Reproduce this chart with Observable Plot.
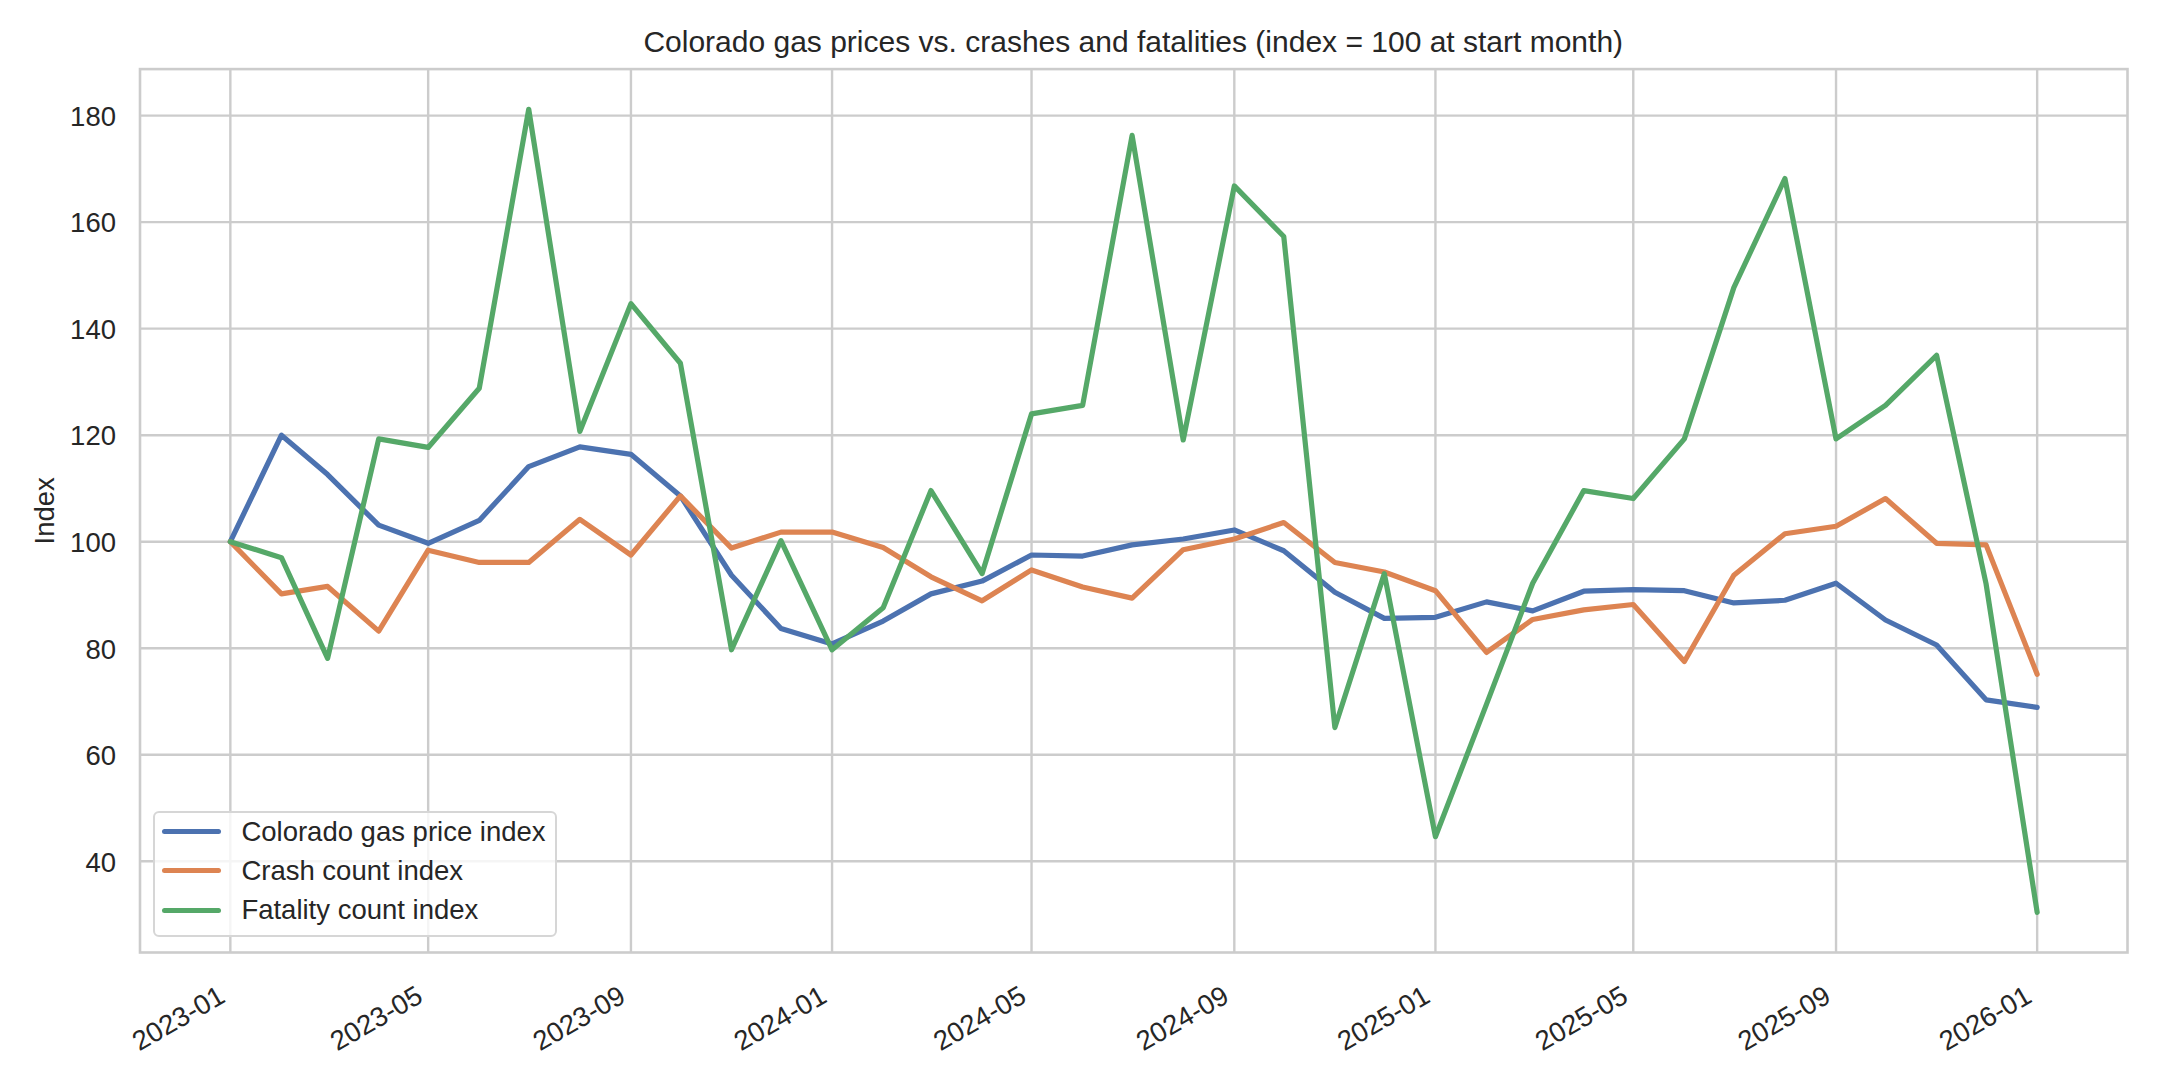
<!DOCTYPE html>
<html>
<head>
<meta charset="utf-8">
<script src="https://cdn.jsdelivr.net/npm/d3@7"></script>
<script src="https://cdn.jsdelivr.net/npm/@observablehq/plot@0.6"></script>
<style>
  html, body { margin: 0; padding: 0; background: #ffffff; }
  body { font-family: "Liberation Sans", Arial, sans-serif; color: #262626; }
  #wrap { position: relative; width: 2160px; height: 1080px; overflow: hidden; background: #fff; }
  #title { position: relative; height: 60px; }
  #title span { position: absolute; top: 26.6px; left: 139.5px; width: 1987.5px; text-align: center;
                font-size: 30px; line-height: 30px; white-space: nowrap; }
  #legend { position: absolute; left: 153px; top: 811px; width: 404px; height: 126px; box-sizing: border-box;
            border: 2px solid #d6d6d6; border-radius: 6px; background: rgba(255,255,255,0.8); }
  .row { position: absolute; left: 0; height: 40px; display: flex; align-items: center; white-space: nowrap; }
  .sw { width: 59px; height: 5px; border-radius: 2.5px; margin-left: 6.7px; }
  .lab { margin-left: 20.7px; font-size: 27.5px; line-height: 40px; }
</style>
</head>
<body>
<div id="wrap">
  <div id="title"><span>Colorado gas prices vs. crashes and fatalities (index = 100 at start month)</span></div>
  <div id="chart"></div>
  <div id="legend"></div>
</div>
<script>
// ---- data ----
const months = [
  "2023-01","2023-02","2023-03","2023-04","2023-05","2023-06","2023-07","2023-08","2023-09","2023-10","2023-11","2023-12",
  "2024-01","2024-02","2024-03","2024-04","2024-05","2024-06","2024-07","2024-08","2024-09","2024-10","2024-11","2024-12",
  "2025-01","2025-02","2025-03","2025-04","2025-05","2025-06","2025-07","2025-08","2025-09","2025-10","2025-11","2025-12",
  "2026-01"
];
const gasIndex = [
  100, 120, 112.6, 103.1, 99.7, 104, 114.1, 117.8, 116.4, 108.6, 93.7, 83.7,
  80.8, 85.1, 90.2, 92.6, 97.5, 97.3, 99.4, 100.5, 102.2, 98.3, 90.5, 85.6,
  85.8, 88.7, 87.0, 90.7, 91.0, 90.8, 88.5, 89.0, 92.2, 85.3, 80.6, 70.3,
  68.9
];
const crashIndex = [
  100, 90.2, 91.6, 83.2, 98.4, 96.1, 96.1, 104.2, 97.5, 108.6, 98.8, 101.8,
  101.8, 98.9, 93.4, 88.9, 94.7, 91.5, 89.4, 98.5, 100.5, 103.6, 96.1, 94.3,
  90.8, 79.2, 85.4, 87.2, 88.2, 77.5, 93.7, 101.5, 102.9, 108.1, 99.7, 99.4,
  75.1
];
const fatalityIndex = [
  100, 97, 78.1, 119.3, 117.7, 128.8, 181.2, 120.7, 144.7, 133.5, 79.7, 100.2,
  79.7, 87.6, 109.6, 94, 124, 125.6, 176.3, 119.1, 166.8, 157.3, 65.1, 94,
  44.6, 69.5, 92.2, 109.6, 108.1, 119.3, 147.7, 168.2, 119.3, 125.6, 135, 92.1,
  30.4
];
const seriesNames = ["Colorado gas price index", "Crash count index", "Fatality count index"];
const seriesColors = ["#4C72B0", "#DD8452", "#55A868"];
const xTickLabels = ["2023-01","2023-05","2023-09","2024-01","2024-05","2024-09","2025-01","2025-05","2025-09","2026-01"];
const yTicks = [40, 60, 80, 100, 120, 140, 160, 180];

// ---- build table ----
const parse = d3.utcParse("%Y-%m");
const seriesValues = [gasIndex, crashIndex, fatalityIndex];
const rows = [];
seriesValues.forEach((vals, s) => vals.forEach((v, i) => rows.push({date: parse(months[i]), value: v, series: seriesNames[s]})));
const xTicks = xTickLabels.map(parse);

// matplotlib-style 5% margins
const d0 = parse(months[0]), d1 = parse(months[months.length - 1]);
const span = d1 - d0;
const xDomain = [new Date(+d0 - 0.05 * span), new Date(+d1 + 0.05 * span)];
const allV = rows.map(r => r.value);
const vmin = d3.min(allV), vmax = d3.max(allV), vr = vmax - vmin;
const yDomain = [vmin - 0.05 * vr, vmax + 0.05 * vr];

const grid = {stroke: "#cccccc", strokeOpacity: 1, strokeWidth: 2.4};

const chart = Plot.plot({
  width: 2160,
  height: 1020,
  marginTop: 8.6,
  marginBottom: 128,
  marginLeft: 139.5,
  marginRight: 33,
  style: {fontFamily: '"Liberation Sans", Arial, sans-serif', color: "#262626", background: "#ffffff", overflow: "visible"},
  x: {type: "utc", domain: xDomain},
  y: {domain: yDomain},
  color: {domain: seriesNames, range: seriesColors},
  marks: [
    Plot.gridX(xTicks, grid),
    Plot.gridY(yTicks, grid),
    Plot.line(rows, {x: "date", y: "value", z: "series", stroke: "series", strokeWidth: 5.2,
                     strokeLinejoin: "round", strokeLinecap: "round"}),
    Plot.frame({stroke: "#cccccc", strokeWidth: 2.6}),
    Plot.axisY(yTicks, {tickSize: 0, tickPadding: 24, fontSize: 27.5, dy: 1.5,
                        label: "Index", labelAnchor: "center", labelArrow: "none", labelOffset: 106}),
    Plot.axisX(xTicks, {tickSize: 0, tickPadding: 41, tickRotate: -30, fontSize: 27.5,
                        textAnchor: "end", lineAnchor: "middle", dx: -8,
                        tickFormat: d3.utcFormat("%Y-%m"), label: null})
  ]
});
document.getElementById("chart").appendChild(chart);

// ---- legend ----
const legend = document.getElementById("legend");
const rowCenters = [20.7, 59.7, 99];
seriesNames.forEach((name, i) => {
  const r = document.createElement("div");
  r.className = "row";
  r.style.top = (rowCenters[i] - 2 - 20) + "px";
  const sw = document.createElement("div");
  sw.className = "sw";
  sw.style.background = seriesColors[i];
  const lab = document.createElement("span");
  lab.className = "lab";
  lab.textContent = name;
  r.appendChild(sw); r.appendChild(lab);
  legend.appendChild(r);
});
</script>
</body>
</html>
